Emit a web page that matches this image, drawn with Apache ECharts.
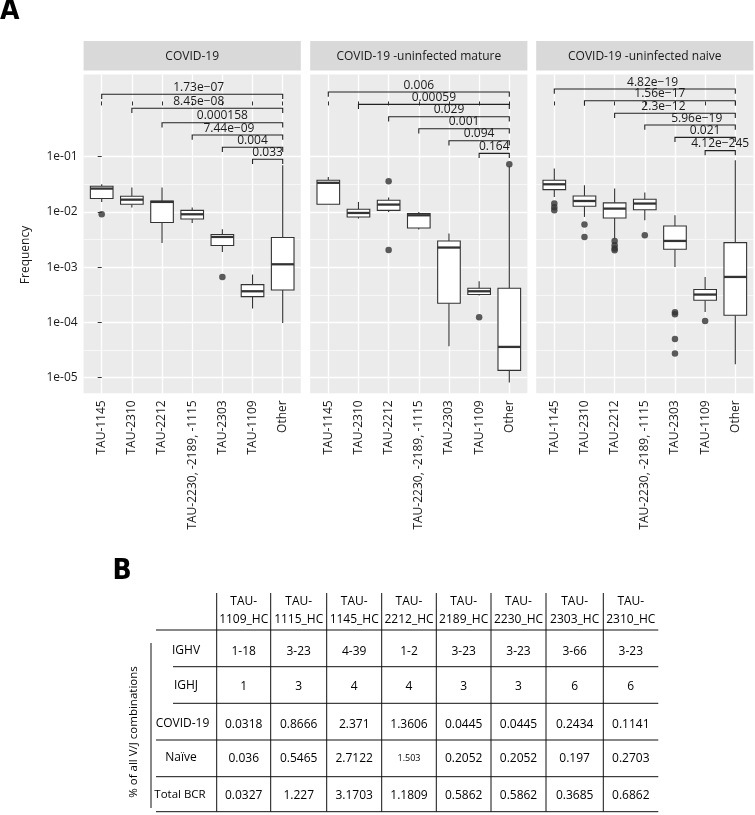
<!DOCTYPE html>
<html><head><meta charset="utf-8">
<script src="https://cdn.jsdelivr.net/npm/echarts@6/dist/echarts.min.js"></script>
<style>html,body{margin:0;padding:0;background:#fff}#c{width:755px;height:815px}</style>
</head><body><div id="c"></div>
<script>
// ---------- DATA ----------
const categories = ['TAU-1145','TAU-2310','TAU-2212','TAU-2230, -2189, -1115','TAU-2303','TAU-1109','Other'];
const panelTitles = ['COVID-19','COVID-19 -uninfected mature','COVID-19 -uninfected naive'];
const yTickValues = [1e-5, 1e-4, 1e-3, 1e-2, 1e-1];
const yTickLabels = ['1e-05','1e-04','1e-03','1e-02','1e-01'];
const yMinorValues = [10**-4.5, 10**-3.5, 10**-2.5, 10**-1.5];

// box stats per category: [lower whisker, Q1, median, Q3, upper whisker]
const boxesCovid = [
  [0.0152, 0.0175, 0.0265, 0.0292, 0.0317],
  [0.0120, 0.0138, 0.0167, 0.0192, 0.0277],
  [0.00275, 0.00643, 0.0152, 0.0158, 0.0277],
  [0.00632, 0.00746, 0.00908, 0.0107, 0.0120],
  [0.00189, 0.00247, 0.00353, 0.0039, 0.00486],
  [0.000179, 0.000294, 0.000367, 0.000485, 0.000736],
  [0.000098, 0.000387, 0.00113, 0.00344, 0.070]
];
const boxesMature = [
  [0.0138, 0.0138, 0.0337, 0.0375, 0.0431],
  [0.00759, 0.00813, 0.00959, 0.0112, 0.0152],
  [0.0100, 0.0107, 0.0136, 0.0163, 0.0182],
  [0.0048, 0.00513, 0.00871, 0.00935, 0.0100],
  [0.0000371, 0.000223, 0.00227, 0.00299, 0.00406],
  [0.000309, 0.00032, 0.000367, 0.000416, 0.000557],
  [0.00000817, 0.0000136, 0.0000361, 0.000416, 0.0671]
];
const boxesNaive = [
  [0.0187, 0.0254, 0.0317, 0.0375, 0.0611],
  [0.00813, 0.0127, 0.0158, 0.0195, 0.0304],
  [0.0033, 0.00778, 0.0115, 0.0146, 0.0265],
  [0.00708, 0.0110, 0.0142, 0.0170, 0.0224],
  [0.00101, 0.00211, 0.00299, 0.00558, 0.00871],
  [0.000155, 0.000252, 0.00032, 0.000394, 0.000667],
  [0.0000175, 0.000135, 0.000667, 0.00279, 0.0863]
];
// outliers: [category index, frequency]
const outliersCovid = [[0, 0.00908], [4, 0.000667]];
const outliersMature = [[2, 0.0360], [2, 0.00205], [5, 0.000124], [6, 0.0729]];
const outliersNaive = [[0, 0.0142], [0, 0.0122], [0, 0.0107], [1, 0.00592], [1, 0.00353],
  [2, 0.00299], [2, 0.00249], [2, 0.00218], [2, 0.00203], [3, 0.00378],
  [4, 0.000153], [4, 0.000141], [4, 0.0000502], [4, 0.0000274], [5, 0.000106]];

// significance brackets: each category (0..5) vs "Other" (6)
const bracketFrom = [0, 1, 2, 3, 4, 5];
const bracketTo = 6;
const bracketYCovid = [1.35, 0.752, 0.412, 0.247, 0.148, 0.0897];
const bracketYMature = [1.48, 0.887, 0.530, 0.321, 0.195, 0.115];
const bracketYNaive = [1.68, 1.03, 0.611, 0.375, 0.224, 0.129];
const pLabelsCovid = ['1.73e\u221207', '8.45e\u221208', '0.000158', '7.44e\u221209', '0.004', '0.033'];
const pLabelsMature = ['0.006', '0.00059', '0.029', '0.001', '0.094', '0.164'];
const pLabelsNaive = ['4.82e\u221219', '1.56e\u221217', '2.3e\u221212', '5.96e\u221219', '0.021', '4.12e\u2212245'];

// table (panel B)
const tableColumns = ['TAU-1109_HC','TAU-1115_HC','TAU-1145_HC','TAU-2212_HC','TAU-2189_HC','TAU-2230_HC','TAU-2303_HC','TAU-2310_HC'];
const tableRowLabels = ['IGHV','IGHJ','COVID-19','Naïve','Total BCR'];
const rowIGHV = ['1-18','3-23','4-39','1-2','3-23','3-23','3-66','3-23'];
const rowIGHJ = ['1','3','4','4','3','3','6','6'];
const rowCovid = ['0.0318','0.8666','2.371','1.3606','0.0445','0.0445','0.2434','0.1141'];
const rowNaive = ['0.036','0.5465','2.7122','1.503','0.2052','0.2052','0.197','0.2703'];
const rowTotal = ['0.0327','1.227','3.1703','1.1809','0.5862','0.5862','0.3685','0.6862'];
const tableSideLabel = '% of all V/J combinations';

// ---------- LAYOUT / STYLE ----------
const FONT = "'Open Sans','Noto Sans',sans-serif";
const panelLeft = [83.6, 310.2, 536.2];
const panelW = 217.2, panelTop = 74.5, panelH = 318.8;
const yMin = -5.282, yMax = 0.488;
const labelNudge = [[6.5, -8.5, 0, -8.5, 0, 0], [0, 0, 0, 0, 0, 0], [7.8, 0, -11.5, 6.7, 0, 0]];
const INK = '#333333';
const TEXT = '#1a1a1a';

const boxes = [boxesCovid, boxesMature, boxesNaive];
const outliers = [outliersCovid, outliersMature, outliersNaive];
const bracketY = [bracketYCovid, bracketYMature, bracketYNaive];
const pLabels = [pLabelsCovid, pLabelsMature, pLabelsNaive];
const L = Math.log10;

const grids = [], xAxes = [], yAxes = [], series = [];
const catIdx = categories.map((c, i) => i);
for (let p = 0; p < 3; p++) {
  grids.push({left: panelLeft[p], top: panelTop, width: panelW, height: panelH,
    show: true, backgroundColor: '#EBEBEB', borderWidth: 0, containLabel: false});
  xAxes.push({type: 'value', gridIndex: p, min: -0.6, max: 6.6,
    axisLine: {show: false},
    axisTick: {show: true, length: 4, customValues: catIdx, lineStyle: {color: INK, width: 1}},
    axisLabel: {show: true, customValues: catIdx, rotate: 90, margin: 7, fontSize: 12,
      fontFamily: FONT, color: TEXT, formatter: v => categories[Math.round(v)]},
    splitLine: {show: true, lineStyle: {color: '#ffffff', width: 1.3}}});
}
for (let p = 0; p < 3; p++) {
  yAxes.push({type: 'value', gridIndex: p, min: yMin, max: yMax,
    axisLine: {show: false},
    axisTick: {show: p === 0, length: 4, customValues: yTickValues.map(L), lineStyle: {color: INK, width: 1}},
    axisLabel: {show: p === 0, customValues: yTickValues.map(L), margin: 6, fontSize: 12,
      fontFamily: FONT, color: TEXT,
      formatter: v => { const i = yTickValues.findIndex(t => Math.abs(L(t) - v) < 1e-6); return i >= 0 ? yTickLabels[i] : ''; }},
    splitLine: {show: true, lineStyle: {color: '#ffffff', width: 1.3}}});
}
for (let p = 0; p < 3; p++) {
  yAxes.push({type: 'value', gridIndex: p, min: yMin, max: yMax, position: 'left',
    axisLine: {show: false}, axisLabel: {show: false},
    axisTick: {show: false, customValues: yMinorValues.map(L)},
    splitLine: {show: true, lineStyle: {color: '#ffffff', width: 0.6}}});
}

function renderBox(params, api) {
  const x = api.value(0);
  const lo = api.coord([x, api.value(1)]);
  const q1 = api.coord([x, api.value(2)]);
  const md = api.coord([x, api.value(3)]);
  const q3 = api.coord([x, api.value(4)]);
  const hi = api.coord([x, api.value(5)]);
  const half = api.size([0.75, 0])[0] / 2;
  const cx = q1[0];
  const ls = {stroke: INK, lineWidth: 1.1};
  return {type: 'group', children: [
    {type: 'line', shape: {x1: cx, y1: hi[1], x2: cx, y2: q3[1]}, style: ls},
    {type: 'line', shape: {x1: cx, y1: q1[1], x2: cx, y2: lo[1]}, style: ls},
    {type: 'rect', shape: {x: cx - half, y: q3[1], width: 2 * half, height: q1[1] - q3[1]},
      style: {fill: '#ffffff', stroke: INK, lineWidth: 1.1}},
    {type: 'line', shape: {x1: cx - half, y1: md[1], x2: cx + half, y2: md[1]}, style: {stroke: INK, lineWidth: 2.3}}
  ]};
}

function makeBracketRenderer(p) {
  return function (params, api) {
    const y = api.value(2);
    const a = api.coord([api.value(0), y]);
    const b = api.coord([api.value(1), y]);
    const idx = api.value(3);
    const tip = 4.7;
    return {type: 'group', children: [
      {type: 'polyline', shape: {points: [[a[0], a[1] + tip], [a[0], a[1]], [b[0], b[1]], [b[0], b[1] + tip]]},
        style: {stroke: '#222', lineWidth: 1.1, fill: null}},
      {type: 'text', x: (a[0] + b[0]) / 2 + labelNudge[p][idx], y: a[1] - 6.8,
        style: {text: pLabels[p][idx], align: 'center', verticalAlign: 'middle',
          fontSize: 12, fontFamily: FONT, fill: TEXT}}
    ]};
  };
}

for (let p = 0; p < 3; p++) {
  series.push({type: 'custom', xAxisIndex: p, yAxisIndex: p, renderItem: renderBox,
    encode: {x: 0, y: [1, 2, 3, 4, 5]}, clip: false, silent: true,
    data: boxes[p].map((b, i) => [i].concat(b.map(L)))});
  series.push({type: 'scatter', xAxisIndex: p, yAxisIndex: p, symbol: 'circle', symbolSize: 6.5,
    itemStyle: {color: INK}, silent: true,
    data: outliers[p].map(o => [o[0], L(o[1])])});
  series.push({type: 'custom', xAxisIndex: p, yAxisIndex: p, renderItem: makeBracketRenderer(p),
    encode: {x: [0, 1], y: 2}, clip: false, silent: true, z: 5,
    data: bracketFrom.map((f, i) => [f, bracketTo, L(bracketY[p][i]), i])});
}

// ---------- graphic: strips, letters, axis title, table ----------
const graphic = [];
for (let p = 0; p < 3; p++) {
  graphic.push({type: 'rect', shape: {x: panelLeft[p], y: 41, width: panelW, height: 29.5}, style: {fill: '#D9D9D9'}, silent: true});
  graphic.push({type: 'text', x: panelLeft[p] + panelW / 2, y: 56.3,
    style: {text: panelTitles[p], align: 'center', verticalAlign: 'middle', fontSize: 12, fontFamily: FONT, fill: TEXT}});
}
const LETTER_FONT = "'Liberation Sans Narrow','DejaVu Sans Condensed','Liberation Sans',sans-serif";
graphic.push({type: 'text', x: 0, y: 11.7, style: {text: 'A', align: 'left', verticalAlign: 'middle', fontSize: 28, fontWeight: 'bold', fontFamily: LETTER_FONT, fill: '#000'}});
graphic.push({type: 'text', x: 112.5, y: 571.7, style: {text: 'B', align: 'left', verticalAlign: 'middle', fontSize: 28, fontWeight: 'bold', fontFamily: LETTER_FONT, fill: '#000'}});
graphic.push({type: 'text', x: 25.5, y: 255, rotation: Math.PI / 2,
  style: {text: 'Frequency', align: 'center', verticalAlign: 'middle', fontSize: 12, fontFamily: FONT, fill: TEXT}});

// table geometry
const colX = [216.7, 270.7, 326.7, 381.7, 436.3, 491, 546, 603.3, 658.3];
const tTop = 593, tBottom = 811.7;
const hLines = [[156, 630], [173, 666.7], [173, 703.3], [156, 740], [156, 776.7], [156, 811.7]];
const rowCenters = [651, 686, 723.5, 757.5, 794.5];
const rowLabelX = [186, 186, 182.5, 181, 180];
const TLINE = {stroke: '#111', lineWidth: 1};
hLines.forEach(h => graphic.push({type: 'line', shape: {x1: h[0], y1: h[1], x2: colX[8], y2: h[1]}, style: TLINE, silent: true}));
for (let i = 0; i < 8; i++) graphic.push({type: 'line', shape: {x1: colX[i], y1: tTop, x2: colX[i], y2: tBottom}, style: TLINE, silent: true});
graphic.push({type: 'line', shape: {x1: 151, y1: 643, x2: 151, y2: 808}, style: TLINE, silent: true});
const TFONT = {fontSize: 12, fontFamily: FONT, fill: '#000', align: 'center', verticalAlign: 'middle'};
tableColumns.forEach((c, i) => {
  const cx = (colX[i] + colX[i + 1]) / 2;
  const k = c.indexOf('-') + 1;
  graphic.push({type: 'text', x: cx, y: 601.7, style: Object.assign({text: c.slice(0, k)}, TFONT)});
  graphic.push({type: 'text', x: cx, y: 620, style: Object.assign({text: c.slice(k)}, TFONT)});
});
const tableRows = [rowIGHV, rowIGHJ, rowCovid, rowNaive, rowTotal];
tableRows.forEach((row, r) => {
  graphic.push({type: 'text', x: rowLabelX[r], y: rowCenters[r],
    style: Object.assign({text: tableRowLabels[r]}, TFONT, r === 4 ? {fontSize: 11.5} : {})});
  row.forEach((v, i) => {
    const cx = (colX[i] + colX[i + 1]) / 2;
    const small = (r === 3 && i === 3);
    graphic.push({type: 'text', x: cx, y: rowCenters[r] + 0.8,
      style: Object.assign({text: v}, TFONT, small ? {fontSize: 9} : {})});
  });
});
graphic.push({type: 'text', x: 134, y: 732, rotation: Math.PI / 2,
  style: {text: tableSideLabel, align: 'center', verticalAlign: 'middle', fontSize: 11.5, fontFamily: FONT, fill: '#000'}});

const chart = echarts.init(document.getElementById('c'), null, {renderer: 'canvas'});
chart.setOption({
  animation: false,
  backgroundColor: '#ffffff',
  grid: grids, xAxis: xAxes, yAxis: yAxes, series: series, graphic: graphic
});
</script></body></html>
